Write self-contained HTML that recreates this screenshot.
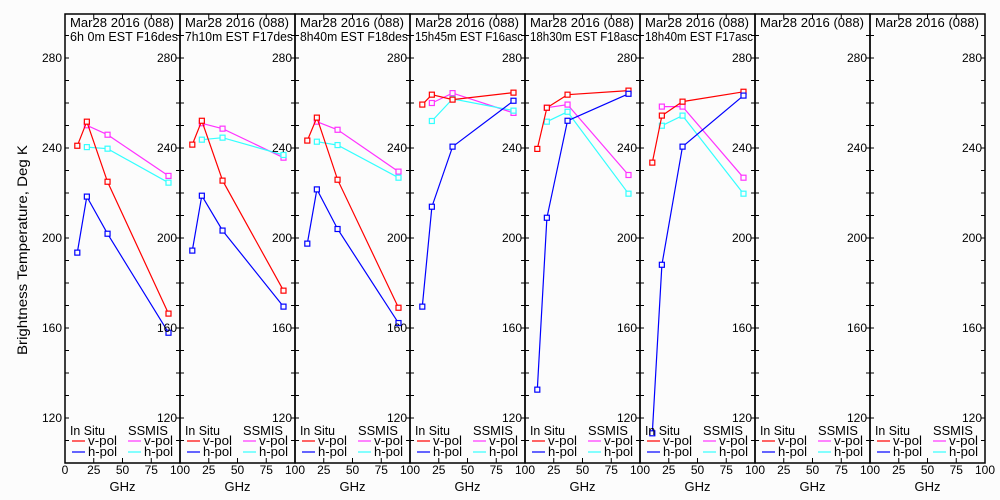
<!DOCTYPE html>
<html><head><meta charset="utf-8">
<style>
html,body{margin:0;padding:0;background:#fcfcfc;}
svg{display:block;font-family:"Liberation Sans",sans-serif;}
text{fill:#000;}
</style></head>
<body>
<svg id="chart" width="1000" height="500" viewBox="0 0 1000 500" xmlns="http://www.w3.org/2000/svg">
<rect x="0" y="0" width="1000" height="500" fill="#fcfcfc"/>
<text x="0" y="0" font-size="14" text-anchor="middle" textLength="210" lengthAdjust="spacingAndGlyphs" transform="translate(27,250) rotate(-90)">Brightness Temperature, Deg K</text>
</svg>
<script>
const panelTitles = ["6h 0m  EST F16des","7h10m  EST F17des","8h40m  EST F18des","15h45m  EST F16asc","18h30m  EST F18asc","18h40m  EST F17asc","",""];
const headerText = "Mar28 2016 (088)";
const insituFreq = [10.7, 19, 37, 90];
const ssmisFreq = [19, 37, 90];
const insituV = [
  [241.0,251.7,225.0,166.4],
  [241.5,252.1,225.5,176.6],
  [243.3,253.5,225.9,169.0],
  [259.3,263.7,261.5,264.6],
  [239.6,257.9,263.7,265.5],
  [233.5,254.4,260.6,265.0],
  null, null];
const insituH = [
  [193.5,218.4,201.9,157.9],
  [194.4,218.8,203.3,169.5],
  [197.5,221.6,204.0,162.2],
  [169.5,213.9,240.6,261.0],
  [132.6,209.0,252.1,264.1],
  [113.2,188.1,240.6,263.3],
  null, null];
const ssmisV = [
  [250.1,245.9,227.6],
  [251.0,248.6,235.7],
  [251.7,248.1,229.5],
  [260.0,264.4,255.6],
  [257.9,259.3,228.0],
  [258.4,258.4,226.8],
  null, null];
const ssmisH = [
  [240.4,239.7,224.6],
  [243.7,244.6,236.9],
  [242.8,241.3,226.8],
  [252.0,261.8,256.6],
  [251.7,256.1,219.7],
  [249.9,254.4,219.7],
  null, null];
const yTickLabels = [120,160,200,240,280];
const xTickLabels = [0,25,50,75,100];

const NS = "http://www.w3.org/2000/svg";
const svg = document.getElementById('chart');
const X0 = 65, PW = 115, TOP = 14, BOT = 463;
function xs(p, f){ return X0 + p*PW + f/100*PW; }
function ys(v){ return 58 + (280 - v)*2.25; }
function mk(tag, attrs, parent){
  const e = document.createElementNS(NS, tag);
  for (const k in attrs) e.setAttribute(k, attrs[k]);
  (parent||svg).appendChild(e);
  return e;
}
const colors = {iv:"#ff0000", ih:"#0000ff", sv:"#ff33ff", sh:"#33ffff"};

for (let p = 0; p < 8; p++){
  const g = mk('g', {});
  
  
  const L = X0 + p*PW, R = L + PW;
  const fr = mk('rect', {x:L, y:TOP, width:PW, height:BOT-TOP, fill:"none", stroke:"#000", "stroke-width":1.5}, g);
  
  
  for (let v = 110; v <= 290; v += 10){
    const y = ys(v);
    mk('line', {x1:L, x2:L+4, y1:y, y2:y, stroke:"#000", "stroke-width":1}, g);
    mk('line', {x1:R-4, x2:R, y1:y, y2:y, stroke:"#000", "stroke-width":1}, g);
  }
  yTickLabels.forEach(v => {
    const t = mk('text', {x:L-3, y:ys(v)+4, "font-size":12, "text-anchor":"end"}, g);
    
    
    t.textContent = v;
  });
  if (p === 7){
    yTickLabels.forEach(v => {
      const t = mk('text', {x:R-3, y:ys(v)+4, "font-size":12, "text-anchor":"end"}, g);
      
      
      t.textContent = v;
    });
  }
  xTickLabels.forEach(f => {
    const x = xs(p, f);
    mk('line', {x1:x, x2:x, y1:BOT-5, y2:BOT, stroke:"#000", "stroke-width":1}, g);
    mk('line', {x1:x, x2:x, y1:TOP, y2:TOP+5, stroke:"#000", "stroke-width":1}, g);
    if (f === 0 && p > 0) return;
    const t = mk('text', {x:x, y:474, "font-size":12, "text-anchor":"middle"}, g);
    
    
    t.textContent = f;
  });
  const gx = mk('text', {x:L+PW/2, y:491, "font-size":13, "text-anchor":"middle"}, g);
  
  
  gx.textContent = "GHz";
  const t1 = mk('text', {x:L+5, y:27, "font-size":12.5, textLength:104, lengthAdjust:"spacingAndGlyphs"}, g);
  
  
  t1.textContent = headerText;
  if (panelTitles[p]){
    const t2 = mk('text', {x:L+5, y:41, "font-size":12.5, textLength:108, lengthAdjust:"spacingAndGlyphs"}, g);
    
    
    t2.textContent = panelTitles[p];
  }
  function series(fr, vals, col, name){
    if (!vals) return;
    const pts = vals.map((v,i) => xs(p, fr[i]).toFixed(1) + "," + ys(v).toFixed(1)).join(" ");
    const pl = mk('polyline', {points:pts, fill:"none", stroke:col, "stroke-width":1.2}, g);
    
    
    vals.forEach((v,i) => {
      const m = mk('rect', {x:xs(p, fr[i])-2.5, y:ys(v)-2.5, width:5, height:5, fill:"#fcfcfc", stroke:col, "stroke-width":1.2}, g);
      
      
    });
  }
  series(ssmisFreq, ssmisV[p], colors.sv, 'ssmis-vpol');
  series(ssmisFreq, ssmisH[p], colors.sh, 'ssmis-hpol');
  series(insituFreq, insituV[p], colors.iv, 'insitu-vpol');
  series(insituFreq, insituH[p], colors.ih, 'insitu-hpol');
  const lg = mk('g', {}, g);
  
  
  const h1 = mk('text', {x:L+5, y:435, "font-size":12.5, textLength:35, lengthAdjust:"spacingAndGlyphs"}, lg);
  
  
  h1.textContent = "In Situ";
  const h2 = mk('text', {x:L+63, y:435, "font-size":12.5, textLength:40, lengthAdjust:"spacingAndGlyphs"}, lg);
  
  
  h2.textContent = "SSMIS";
  [[L+7, 441, colors.iv, "v-pol"], [L+7, 452, colors.ih, "h-pol"], [L+63, 441, colors.sv, "v-pol"], [L+63, 452, colors.sh, "h-pol"]].forEach(e => {
    const ln = mk('line', {x1:e[0], x2:e[0]+13, y1:e[1], y2:e[1], stroke:e[2], "stroke-width":1.2}, lg);
    
    
    const tx = mk('text', {x:e[0]+16, y:e[1]+4, "font-size":12.5, textLength:29, lengthAdjust:"spacingAndGlyphs"}, lg);
    
    
    tx.textContent = e[3];
  });
}
</script>
</body></html>
